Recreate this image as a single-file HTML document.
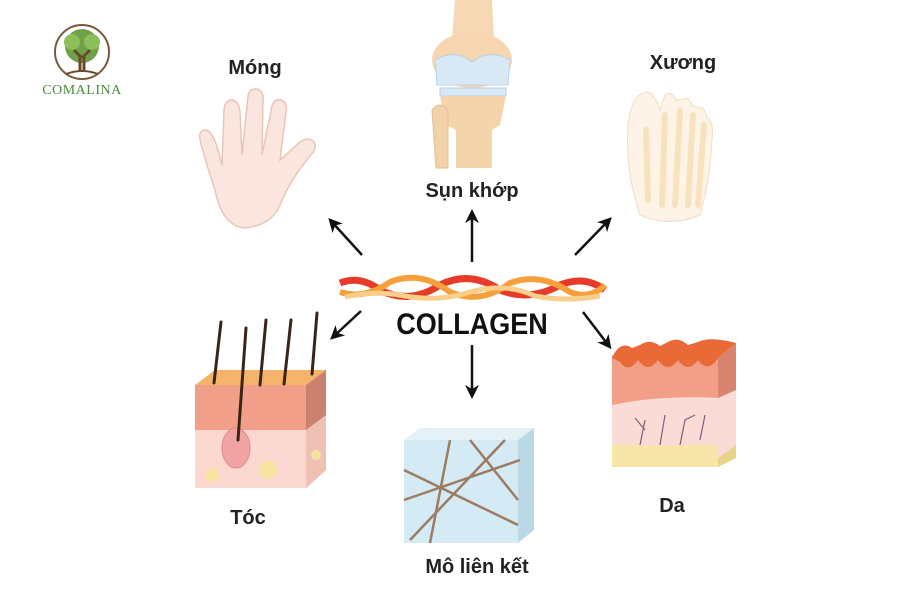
<!DOCTYPE html>
<html><head><meta charset="utf-8"><style>
html,body{margin:0;padding:0;background:#fff;}
svg{display:block}
text{font-family:"Liberation Sans",sans-serif;}
</style></head><body>
<svg width="900" height="600" viewBox="0 0 900 600" xmlns="http://www.w3.org/2000/svg">
<defs>
<marker id="ah" markerWidth="14" markerHeight="14" refX="10" refY="7" orient="auto" markerUnits="userSpaceOnUse">
<path d="M0,0 L14,7 L0,14 L4,7 Z" fill="#111"/>
</marker>
</defs>
<rect width="900" height="600" fill="#fff"/>

<!-- Logo -->
<circle cx="82" cy="52" r="27" fill="none" stroke="#7a5a3a" stroke-width="2"/>
<circle cx="82" cy="46" r="17" fill="#6fa04a"/>
<circle cx="72" cy="42" r="8" fill="#8cbf5a"/>
<circle cx="92" cy="42" r="8" fill="#8cbf5a"/>
<path d="M80,56 L80,72 M84,56 L84,72 M82,58 L74,50 M82,58 L90,50" stroke="#6b4a2a" stroke-width="3"/>
<path d="M66,74 Q82,68 98,74" stroke="#6b4a2a" stroke-width="2" fill="none"/>
<text x="82" y="94" text-anchor="middle" style="font-family:'Liberation Serif',serif" font-size="14" fill="#4a8a3a" letter-spacing="0.5">COMALINA</text>

<!-- Hand -->
<path d="M215,190 Q205,160 200,140 Q198,130 206,130 Q213,132 218,150 L222,165 L224,110 Q225,100 232,100 Q239,101 240,112 L242,155 L248,96 Q250,88 257,89 Q264,91 263,100 L262,155 L272,106 Q275,98 281,100 Q288,103 286,112 L280,160 L300,142 Q308,136 314,142 Q318,148 310,156 Q290,180 280,205 Q272,225 245,228 Q222,226 215,190 Z" fill="#fbe6df" stroke="#e9c4b8" stroke-width="1.5"/>
<text x="255" y="74" text-anchor="middle" font-size="20" font-weight="bold" fill="#222">Móng</text>

<!-- Knee -->
<path d="M455,0 L492,0 L494,38 L452,38 Z" fill="#f6d9b4"/>
<ellipse cx="472" cy="60" rx="40" ry="28" fill="#f6d6b0"/>
<path d="M435,60 Q455,48 472,62 Q490,48 510,60 L508,85 L437,85 Z" fill="#d8e8f4" stroke="#b8d0e4"/>
<rect x="440" y="88" width="66" height="8" fill="#d8e8f4" stroke="#b8d0e4"/>
<path d="M440,96 L506,96 L500,125 L492,130 L492,168 L456,168 L456,130 L446,125 Z" fill="#f4d4ab"/>
<path d="M432,110 Q440,100 448,110 L448,168 L436,168 Z" fill="#f2d2a8" stroke="#e4bf90"/>
<text x="472" y="197" text-anchor="middle" font-size="20" font-weight="bold" fill="#222">Sụn khớp</text>

<!-- Foot -->
<path d="M640,215 Q625,170 628,125 Q632,92 648,92 Q655,95 660,110 L665,95 Q672,90 676,100 L682,100 Q688,95 692,105 L698,108 Q704,105 707,118 Q714,120 712,140 Q710,180 700,215 Q670,228 640,215 Z" fill="#fdf3e6" stroke="#f1dcc0"/>
<path d="M648,200 L646,130 M662,205 L665,115 M675,205 L680,110 M688,205 L693,115 M698,205 L704,125" stroke="#f7e2bd" stroke-width="6" stroke-linecap="round"/>
<text x="683" y="69" text-anchor="middle" font-size="20" font-weight="bold" fill="#222">Xương</text>

<!-- Collagen rope -->
<path d="M340,283 Q360,275 380,290 Q410,305 440,285 Q470,270 500,290 Q530,302 560,285 Q585,275 605,290" stroke="#e83a28" stroke-width="7" fill="none"/>
<path d="M340,292 Q365,300 390,282 Q420,270 450,292 Q480,305 510,283 Q540,272 570,292 Q590,300 605,285" stroke="#f5a03a" stroke-width="6" fill="none"/>
<path d="M345,297 Q375,290 405,296 Q440,302 470,292 Q505,282 535,296 Q565,302 600,296" stroke="#f7cf8a" stroke-width="5" fill="none"/>
<text x="472" y="334" text-anchor="middle" font-size="30" font-weight="bold" fill="#111" transform="translate(472,0) scale(0.9,1) translate(-472,0)">COLLAGEN</text>

<!-- Arrows -->
<g stroke="#111" stroke-width="2.5" marker-end="url(#ah)">
<line x1="362" y1="255" x2="331" y2="221"/>
<line x1="472" y1="262" x2="472" y2="213"/>
<line x1="575" y1="255" x2="609" y2="220"/>
<line x1="361" y1="311" x2="333" y2="337"/>
<line x1="472" y1="345" x2="472" y2="395"/>
<line x1="583" y1="312" x2="609" y2="346"/>
</g>

<!-- Hair block -->
<path d="M195,385 L215,370 L326,370 L306,385 Z" fill="#f5b46a"/>
<path d="M306,385 L326,370 L326,470 L306,488 Z" fill="#c9826e"/>
<rect x="195" y="385" width="111" height="45" fill="#f29f8a"/>
<rect x="195" y="430" width="111" height="58" fill="#fad8cf"/>
<path d="M306,430 L326,415 L326,470 L306,488 Z" fill="#efc1b4"/>
<ellipse cx="236" cy="448" rx="14" ry="20" fill="#f1a3a3" stroke="#e08888"/>
<circle cx="212" cy="475" r="7" fill="#f7e3a0"/>
<circle cx="268" cy="470" r="9" fill="#f7e3a0"/>
<circle cx="316" cy="455" r="5" fill="#f7e3a0"/>
<g stroke="#3a2418" stroke-width="3" stroke-linecap="round" fill="none">
<path d="M214,383 L221,322"/><path d="M238,440 L246,328"/><path d="M260,385 L266,320"/><path d="M284,384 L291,320"/><path d="M312,374 L317,313"/>
</g>
<text x="248" y="524" text-anchor="middle" font-size="20" font-weight="bold" fill="#222">Tóc</text>

<!-- Connective cube -->
<path d="M404,440 L420,428 L534,428 L518,440 Z" fill="#e4f1f7"/>
<path d="M518,440 L534,428 L534,530 L518,543 Z" fill="#bcd8e6"/>
<rect x="404" y="440" width="114" height="103" fill="#d4eaf4"/>
<g stroke="#9c7c62" stroke-width="2.5" fill="none">
<path d="M404,470 L518,525"/><path d="M410,540 L505,440"/><path d="M450,440 L430,543"/><path d="M404,500 L520,460"/><path d="M470,440 L518,500"/>
</g>
<text x="477" y="573" text-anchor="middle" font-size="20" font-weight="bold" fill="#222">Mô liên kết</text>

<!-- Skin block -->
<rect x="612" y="355" width="106" height="50" fill="#f29f8a"/>
<path d="M718,358 L736,343 L736,395 L718,405 Z" fill="#d8846e"/>
<path d="M612,358 Q620,340 632,348 L640,345 Q650,338 660,346 L668,342 Q678,336 688,345 L698,342 Q710,336 736,343 L718,358 Q708,374 698,360 Q688,374 678,360 Q668,374 658,360 Q648,374 638,360 Q628,374 620,362 Z" fill="#e96a36"/>
<path d="M612,405 Q660,395 718,398 L736,390 L736,445 L718,458 L612,458 Z" fill="#f9dcd6"/>
<rect x="612" y="445" width="106" height="22" fill="#f7e6a8"/>
<path d="M718,458 L736,445 L736,458 L718,467 Z" fill="#e8d488"/>
<g stroke="#8a5a7a" stroke-width="1.2" fill="none">
<path d="M640,445 L645,420 M645,430 L635,418 M660,445 L665,415 M680,445 L685,420 L695,415 M700,440 L705,415"/>
</g>
<text x="672" y="512" text-anchor="middle" font-size="20" font-weight="bold" fill="#222">Da</text>
</svg>
</body></html>
